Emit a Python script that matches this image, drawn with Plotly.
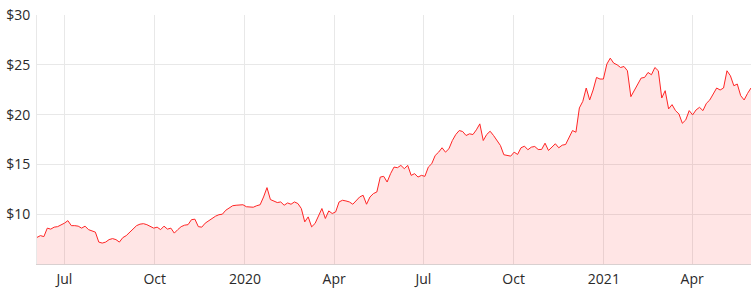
import pandas as pd
import plotly.graph_objects as go

start_date = "2019-06-03"
step = "84h"  # half-week sampling

prices = [
    7.67, 7.85, 7.75, 8.6, 8.5, 8.7, 8.75, 8.9, 9.1, 9.35,
    8.85, 8.85, 8.8, 8.6, 8.8, 8.45, 8.3, 8.2, 7.2, 7.1,
    7.2, 7.45, 7.55, 7.45, 7.2, 7.65, 7.85, 8.2, 8.55, 8.85,
    9.0, 9.05, 8.95, 8.75, 8.6, 8.7, 8.45, 8.8, 8.5, 8.6,
    8.1, 8.45, 8.75, 8.9, 8.95, 9.45, 9.5, 8.75, 8.7, 9.1,
    9.35, 9.6, 9.8, 9.95, 10.0, 10.4, 10.6, 10.85, 10.9, 10.9,
    10.95, 10.75, 10.7, 10.7, 10.85, 10.95,
    11.73, 12.67, 11.47, 11.33, 11.17, 11.23, 10.9, 11.13, 11.0, 11.23,
    11.07, 10.57, 9.23, 9.73, 8.73, 9.07, 9.9, 10.57, 9.57, 10.33,
    10.07, 10.23, 11.23, 11.4, 11.33, 11.23, 11.0, 11.4, 11.73, 11.9,
    11.0, 11.73, 12.07, 12.23, 13.73, 13.8, 13.23, 14.07, 14.73, 14.67,
    14.9, 14.57, 14.9, 13.9, 14.07, 13.73, 13.9, 13.8, 14.73, 15.07,
    15.9, 16.23, 16.67, 16.23, 16.57, 17.4, 18.0, 18.4, 18.3, 17.9,
    18.07, 18.0, 18.47, 19.07, 17.4, 18.0, 18.33, 17.9, 17.33,
    16.9, 15.97, 15.87, 15.83, 16.23, 16.0, 16.67, 16.83, 16.47, 16.73,
    16.8, 16.5, 16.5, 17.13, 16.4, 16.73, 17.07, 16.67, 16.93, 17.0,
    17.73, 18.4, 18.23, 20.67, 21.33, 22.67, 21.47, 22.47, 23.73, 23.57,
    23.57, 25.07, 25.67, 25.17, 25.0, 24.73, 24.83, 24.4, 21.8, 22.47,
    23.07, 23.67, 23.73, 24.23, 24.0, 24.73, 24.4, 21.67, 22.4, 20.57,
    21.0, 20.4, 20.07, 19.13, 19.47, 20.4, 19.97, 20.47, 20.73, 20.4,
    21.13, 21.47, 22.07, 22.67, 22.47, 22.67, 24.4, 23.9, 22.9, 23.07,
    21.9, 21.47, 22.13, 22.67,
]

dates = pd.date_range(start_date, periods=len(prices), freq=step)

x_tick_dates = ["2019-07-01", "2019-10-01", "2020-01-01", "2020-04-01",
                "2020-07-01", "2020-10-01", "2021-01-01", "2021-04-01"]
x_tick_labels = ["Jul", "Oct", "2020", "Apr", "Jul", "Oct", "2021", "Apr"]
y_tick_vals = [10, 15, 20, 25, 30]
y_tick_labels = ["$10", "$15", "$20", "$25", "$30"]

fig = go.Figure(
    go.Scatter(
        x=dates, y=prices, mode="lines",
        line=dict(color="#ff2525", width=1),
        fill="tozeroy", fillcolor="rgba(255,40,40,0.12)",
        hoverinfo="skip",
    )
)

fig.update_layout(
    width=755, height=296,
    margin=dict(l=37, r=4, t=15, b=32),
    paper_bgcolor="white", plot_bgcolor="white",
    showlegend=False,
    font=dict(family="Open Sans", size=14, color="#2a2a2a"),
)
fig.update_xaxes(
    range=[dates[0], dates[-1]],
    tickmode="array", tickvals=x_tick_dates, ticktext=x_tick_labels,
    showgrid=True, gridcolor="#e8e8e8", gridwidth=1,
    showline=True, linecolor="#d9d0d0", linewidth=1,
    ticks="", zeroline=False, ticklabelstandoff=2,
)
fig.update_yaxes(
    range=[5, 30],
    tickmode="array", tickvals=y_tick_vals, ticktext=y_tick_labels,
    showgrid=True, gridcolor="#e8e8e8", gridwidth=1,
    showline=True, linecolor="#e8e8e8", linewidth=1,
    ticks="", zeroline=False, ticklabelstandoff=3,
)

fig.write_html("out.html")
